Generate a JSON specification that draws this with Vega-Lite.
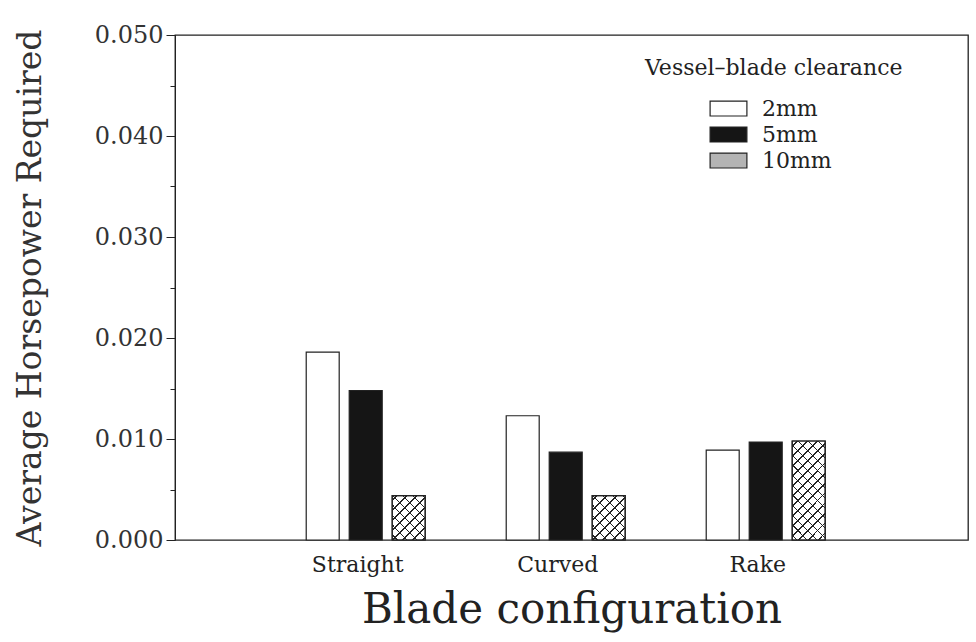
{
  "$schema": "https://vega.github.io/schema/vega-lite/v6.json",
  "width": 793,
  "height": 505,
  "autosize": "none",
  "padding": {"left": 175, "top": 35, "right": 8, "bottom": 102},
  "background": "white",
  "config": {
    "view": {"stroke": "#222", "strokeWidth": 1.3},
    "font": "DejaVu Serif"
  },
  "data": {
    "values": [
      {"blade": "Straight", "clearance": "2mm", "hp": 0.0186},
      {"blade": "Straight", "clearance": "5mm", "hp": 0.0148},
      {"blade": "Straight", "clearance": "10mm", "hp": 0.0044},
      {"blade": "Curved", "clearance": "2mm", "hp": 0.0123},
      {"blade": "Curved", "clearance": "5mm", "hp": 0.0087},
      {"blade": "Curved", "clearance": "10mm", "hp": 0.0044},
      {"blade": "Rake", "clearance": "2mm", "hp": 0.0089},
      {"blade": "Rake", "clearance": "5mm", "hp": 0.0097},
      {"blade": "Rake", "clearance": "10mm", "hp": 0.0098}
    ]
  },
  "encoding": {
    "x": {
      "field": "blade",
      "type": "nominal",
      "sort": ["Straight", "Curved", "Rake"],
      "scale": {"domain": ["Straight", "Curved", "Rake"], "paddingInner": 0, "paddingOuter": 0.4825, "align": 0.47},
      "axis": {
        "title": "Blade configuration",
        "labelAngle": 0,
        "ticks": false,
        "domain": false,
        "labelFontSize": 22,
        "labelPadding": 14,
        "labelOffset": -8,
        "labelColor": "#222",
        "titleFontSize": 42,
        "titleFontWeight": "normal",
        "titleColor": "#222",
        "titlePadding": 14
      }
    },
    "xOffset": {
      "field": "clearance",
      "type": "nominal",
      "sort": ["2mm", "5mm", "10mm"],
      "scale": {"domain": ["2mm", "5mm", "10mm"], "paddingInner": 0.233, "paddingOuter": 0.942}
    },
    "y": {
      "field": "hp",
      "type": "quantitative",
      "scale": {"domain": [0, 0.05], "nice": false},
      "axis": {
        "title": "Average Horsepower Required",
        "values": [0, 0.005, 0.01, 0.015, 0.02, 0.025, 0.03, 0.035, 0.04, 0.045, 0.05],
        "labelExpr": "round(datum.value*1000) % 10 == 0 ? format(datum.value, '.3f') : ''",
        "grid": false,
        "domainColor": "#222",
        "tickColor": "#222",
        "tickSize": {"condition": {"test": "round(datum.value*1000) % 10 == 0", "value": 9}, "value": 5},
        "labelFontSize": 24,
        "labelPadding": 3,
        "labelColor": "#333",
        "titleFontSize": 33,
        "titleFontWeight": "normal",
        "titleColor": "#333",
        "titlePadding": 47
      }
    }
  },
  "layer": [
    {
      "mark": {"type": "bar", "stroke": "#222", "strokeWidth": 1.2},
      "encoding": {
        "fill": {
          "condition": {"test": "datum.clearance == '10mm'", "value": "#ffffff"},
          "field": "clearance",
          "type": "nominal",
          "sort": ["2mm", "5mm", "10mm"],
          "scale": {
            "domain": ["2mm", "5mm", "10mm"],
            "range": ["#ffffff", "#151515", "#b4b4b4"]
          },
          "legend": {
            "orient": "none",
            "legendX": 470,
            "legendY": 23,
            "title": "Vessel–blade clearance",
            "titleLimit": 600,
            "titleFontSize": 22,
            "titleFontWeight": "normal",
            "titleColor": "#222",
            "titlePadding": 16,
            "labelFontSize": 22,
            "labelColor": "#222",
            "symbolType": "M-1.6,-0.65L1.6,-0.65L1.6,0.65L-1.6,0.65Z",
            "symbolSize": 529,
            "symbolStrokeColor": "#222",
            "symbolStrokeWidth": 1.2,
            "symbolOpacity": 1,
            "symbolOffset": 71,
            "labelOffset": 21,
            "rowPadding": 2
          }
        }
      }
    },
    {
      "transform": [{"filter": "datum.clearance == '10mm'"}],
      "mark": {"type": "bar"},
      "encoding": {
        "fill": {
          "condition": {
            "test": "datum.hp > 0.007",
            "value": {
              "gradient": "linear", "x1": 0, "y1": 0, "x2": 0.4001, "y2": 1.2,
              "stops": [
                {"offset": 0, "color": "rgba(0,0,0,0)"},
                {"offset": 0.0320, "color": "rgba(0,0,0,0)"}, {"offset": 0.0320, "color": "#222222"}, {"offset": 0.0438, "color": "#222222"}, {"offset": 0.0438, "color": "rgba(0,0,0,0)"},
                {"offset": 0.1078, "color": "rgba(0,0,0,0)"}, {"offset": 0.1078, "color": "#222222"}, {"offset": 0.1196, "color": "#222222"}, {"offset": 0.1196, "color": "rgba(0,0,0,0)"},
                {"offset": 0.1835, "color": "rgba(0,0,0,0)"}, {"offset": 0.1835, "color": "#222222"}, {"offset": 0.1953, "color": "#222222"}, {"offset": 0.1953, "color": "rgba(0,0,0,0)"},
                {"offset": 0.2593, "color": "rgba(0,0,0,0)"}, {"offset": 0.2593, "color": "#222222"}, {"offset": 0.2711, "color": "#222222"}, {"offset": 0.2711, "color": "rgba(0,0,0,0)"},
                {"offset": 0.3351, "color": "rgba(0,0,0,0)"}, {"offset": 0.3351, "color": "#222222"}, {"offset": 0.3469, "color": "#222222"}, {"offset": 0.3469, "color": "rgba(0,0,0,0)"},
                {"offset": 0.4108, "color": "rgba(0,0,0,0)"}, {"offset": 0.4108, "color": "#222222"}, {"offset": 0.4226, "color": "#222222"}, {"offset": 0.4226, "color": "rgba(0,0,0,0)"},
                {"offset": 0.4866, "color": "rgba(0,0,0,0)"}, {"offset": 0.4866, "color": "#222222"}, {"offset": 0.4984, "color": "#222222"}, {"offset": 0.4984, "color": "rgba(0,0,0,0)"},
                {"offset": 0.5624, "color": "rgba(0,0,0,0)"}, {"offset": 0.5624, "color": "#222222"}, {"offset": 0.5742, "color": "#222222"}, {"offset": 0.5742, "color": "rgba(0,0,0,0)"},
                {"offset": 0.6381, "color": "rgba(0,0,0,0)"}, {"offset": 0.6381, "color": "#222222"}, {"offset": 0.6499, "color": "#222222"}, {"offset": 0.6499, "color": "rgba(0,0,0,0)"},
                {"offset": 0.7139, "color": "rgba(0,0,0,0)"}, {"offset": 0.7139, "color": "#222222"}, {"offset": 0.7257, "color": "#222222"}, {"offset": 0.7257, "color": "rgba(0,0,0,0)"},
                {"offset": 0.7897, "color": "rgba(0,0,0,0)"}, {"offset": 0.7897, "color": "#222222"}, {"offset": 0.8015, "color": "#222222"}, {"offset": 0.8015, "color": "rgba(0,0,0,0)"},
                {"offset": 0.8654, "color": "rgba(0,0,0,0)"}, {"offset": 0.8654, "color": "#222222"}, {"offset": 0.8772, "color": "#222222"}, {"offset": 0.8772, "color": "rgba(0,0,0,0)"},
                {"offset": 0.9412, "color": "rgba(0,0,0,0)"}, {"offset": 0.9412, "color": "#222222"}, {"offset": 0.9530, "color": "#222222"}, {"offset": 0.9530, "color": "rgba(0,0,0,0)"},
                {"offset": 1, "color": "rgba(0,0,0,0)"}
              ]
            }
          },
          "value": {
            "gradient": "linear", "x1": 0, "y1": 0, "x2": 0.834, "y2": 1.123,
            "stops": [
              {"offset": 0, "color": "rgba(0,0,0,0)"},
              {"offset": 0.0545, "color": "rgba(0,0,0,0)"}, {"offset": 0.0545, "color": "#222222"}, {"offset": 0.0747, "color": "#222222"}, {"offset": 0.0747, "color": "rgba(0,0,0,0)"},
              {"offset": 0.1836, "color": "rgba(0,0,0,0)"}, {"offset": 0.1836, "color": "#222222"}, {"offset": 0.2038, "color": "#222222"}, {"offset": 0.2038, "color": "rgba(0,0,0,0)"},
              {"offset": 0.3127, "color": "rgba(0,0,0,0)"}, {"offset": 0.3127, "color": "#222222"}, {"offset": 0.3329, "color": "#222222"}, {"offset": 0.3329, "color": "rgba(0,0,0,0)"},
              {"offset": 0.4419, "color": "rgba(0,0,0,0)"}, {"offset": 0.4419, "color": "#222222"}, {"offset": 0.4621, "color": "#222222"}, {"offset": 0.4621, "color": "rgba(0,0,0,0)"},
              {"offset": 0.5710, "color": "rgba(0,0,0,0)"}, {"offset": 0.5710, "color": "#222222"}, {"offset": 0.5912, "color": "#222222"}, {"offset": 0.5912, "color": "rgba(0,0,0,0)"},
              {"offset": 0.7001, "color": "rgba(0,0,0,0)"}, {"offset": 0.7001, "color": "#222222"}, {"offset": 0.7203, "color": "#222222"}, {"offset": 0.7203, "color": "rgba(0,0,0,0)"},
              {"offset": 0.8292, "color": "rgba(0,0,0,0)"}, {"offset": 0.8292, "color": "#222222"}, {"offset": 0.8494, "color": "#222222"}, {"offset": 0.8494, "color": "rgba(0,0,0,0)"},
              {"offset": 0.9584, "color": "rgba(0,0,0,0)"}, {"offset": 0.9584, "color": "#222222"}, {"offset": 0.9786, "color": "#222222"}, {"offset": 0.9786, "color": "rgba(0,0,0,0)"},
              {"offset": 1, "color": "rgba(0,0,0,0)"}
            ]
          }
        }
      }
    },
    {
      "transform": [{"filter": "datum.clearance == '10mm'"}],
      "mark": {"type": "bar"},
      "encoding": {
        "fill": {
          "condition": {
            "test": "datum.hp > 0.007",
            "value": {
              "gradient": "linear", "x1": 0, "y1": 1, "x2": 0.4001, "y2": -0.2,
              "stops": [
                {"offset": 0, "color": "rgba(0,0,0,0)"},
                {"offset": 0.0320, "color": "rgba(0,0,0,0)"}, {"offset": 0.0320, "color": "#222222"}, {"offset": 0.0438, "color": "#222222"}, {"offset": 0.0438, "color": "rgba(0,0,0,0)"},
                {"offset": 0.1078, "color": "rgba(0,0,0,0)"}, {"offset": 0.1078, "color": "#222222"}, {"offset": 0.1196, "color": "#222222"}, {"offset": 0.1196, "color": "rgba(0,0,0,0)"},
                {"offset": 0.1835, "color": "rgba(0,0,0,0)"}, {"offset": 0.1835, "color": "#222222"}, {"offset": 0.1953, "color": "#222222"}, {"offset": 0.1953, "color": "rgba(0,0,0,0)"},
                {"offset": 0.2593, "color": "rgba(0,0,0,0)"}, {"offset": 0.2593, "color": "#222222"}, {"offset": 0.2711, "color": "#222222"}, {"offset": 0.2711, "color": "rgba(0,0,0,0)"},
                {"offset": 0.3351, "color": "rgba(0,0,0,0)"}, {"offset": 0.3351, "color": "#222222"}, {"offset": 0.3469, "color": "#222222"}, {"offset": 0.3469, "color": "rgba(0,0,0,0)"},
                {"offset": 0.4108, "color": "rgba(0,0,0,0)"}, {"offset": 0.4108, "color": "#222222"}, {"offset": 0.4226, "color": "#222222"}, {"offset": 0.4226, "color": "rgba(0,0,0,0)"},
                {"offset": 0.4866, "color": "rgba(0,0,0,0)"}, {"offset": 0.4866, "color": "#222222"}, {"offset": 0.4984, "color": "#222222"}, {"offset": 0.4984, "color": "rgba(0,0,0,0)"},
                {"offset": 0.5624, "color": "rgba(0,0,0,0)"}, {"offset": 0.5624, "color": "#222222"}, {"offset": 0.5742, "color": "#222222"}, {"offset": 0.5742, "color": "rgba(0,0,0,0)"},
                {"offset": 0.6381, "color": "rgba(0,0,0,0)"}, {"offset": 0.6381, "color": "#222222"}, {"offset": 0.6499, "color": "#222222"}, {"offset": 0.6499, "color": "rgba(0,0,0,0)"},
                {"offset": 0.7139, "color": "rgba(0,0,0,0)"}, {"offset": 0.7139, "color": "#222222"}, {"offset": 0.7257, "color": "#222222"}, {"offset": 0.7257, "color": "rgba(0,0,0,0)"},
                {"offset": 0.7897, "color": "rgba(0,0,0,0)"}, {"offset": 0.7897, "color": "#222222"}, {"offset": 0.8015, "color": "#222222"}, {"offset": 0.8015, "color": "rgba(0,0,0,0)"},
                {"offset": 0.8654, "color": "rgba(0,0,0,0)"}, {"offset": 0.8654, "color": "#222222"}, {"offset": 0.8772, "color": "#222222"}, {"offset": 0.8772, "color": "rgba(0,0,0,0)"},
                {"offset": 0.9412, "color": "rgba(0,0,0,0)"}, {"offset": 0.9412, "color": "#222222"}, {"offset": 0.9530, "color": "#222222"}, {"offset": 0.9530, "color": "rgba(0,0,0,0)"},
                {"offset": 1, "color": "rgba(0,0,0,0)"}
              ]
            }
          },
          "value": {
            "gradient": "linear", "x1": 0, "y1": 1, "x2": 0.834, "y2": -0.123,
            "stops": [
              {"offset": 0, "color": "rgba(0,0,0,0)"},
              {"offset": 0.0545, "color": "rgba(0,0,0,0)"}, {"offset": 0.0545, "color": "#222222"}, {"offset": 0.0747, "color": "#222222"}, {"offset": 0.0747, "color": "rgba(0,0,0,0)"},
              {"offset": 0.1836, "color": "rgba(0,0,0,0)"}, {"offset": 0.1836, "color": "#222222"}, {"offset": 0.2038, "color": "#222222"}, {"offset": 0.2038, "color": "rgba(0,0,0,0)"},
              {"offset": 0.3127, "color": "rgba(0,0,0,0)"}, {"offset": 0.3127, "color": "#222222"}, {"offset": 0.3329, "color": "#222222"}, {"offset": 0.3329, "color": "rgba(0,0,0,0)"},
              {"offset": 0.4419, "color": "rgba(0,0,0,0)"}, {"offset": 0.4419, "color": "#222222"}, {"offset": 0.4621, "color": "#222222"}, {"offset": 0.4621, "color": "rgba(0,0,0,0)"},
              {"offset": 0.5710, "color": "rgba(0,0,0,0)"}, {"offset": 0.5710, "color": "#222222"}, {"offset": 0.5912, "color": "#222222"}, {"offset": 0.5912, "color": "rgba(0,0,0,0)"},
              {"offset": 0.7001, "color": "rgba(0,0,0,0)"}, {"offset": 0.7001, "color": "#222222"}, {"offset": 0.7203, "color": "#222222"}, {"offset": 0.7203, "color": "rgba(0,0,0,0)"},
              {"offset": 0.8292, "color": "rgba(0,0,0,0)"}, {"offset": 0.8292, "color": "#222222"}, {"offset": 0.8494, "color": "#222222"}, {"offset": 0.8494, "color": "rgba(0,0,0,0)"},
              {"offset": 0.9584, "color": "rgba(0,0,0,0)"}, {"offset": 0.9584, "color": "#222222"}, {"offset": 0.9786, "color": "#222222"}, {"offset": 0.9786, "color": "rgba(0,0,0,0)"},
              {"offset": 1, "color": "rgba(0,0,0,0)"}
            ]
          }
        }
      }
    },
    {
      "transform": [{"filter": "datum.clearance == '10mm'"}],
      "mark": {"type": "bar", "fillOpacity": 0, "stroke": "#222", "strokeWidth": 1.2},
      "encoding": {}
    }
  ]
}
